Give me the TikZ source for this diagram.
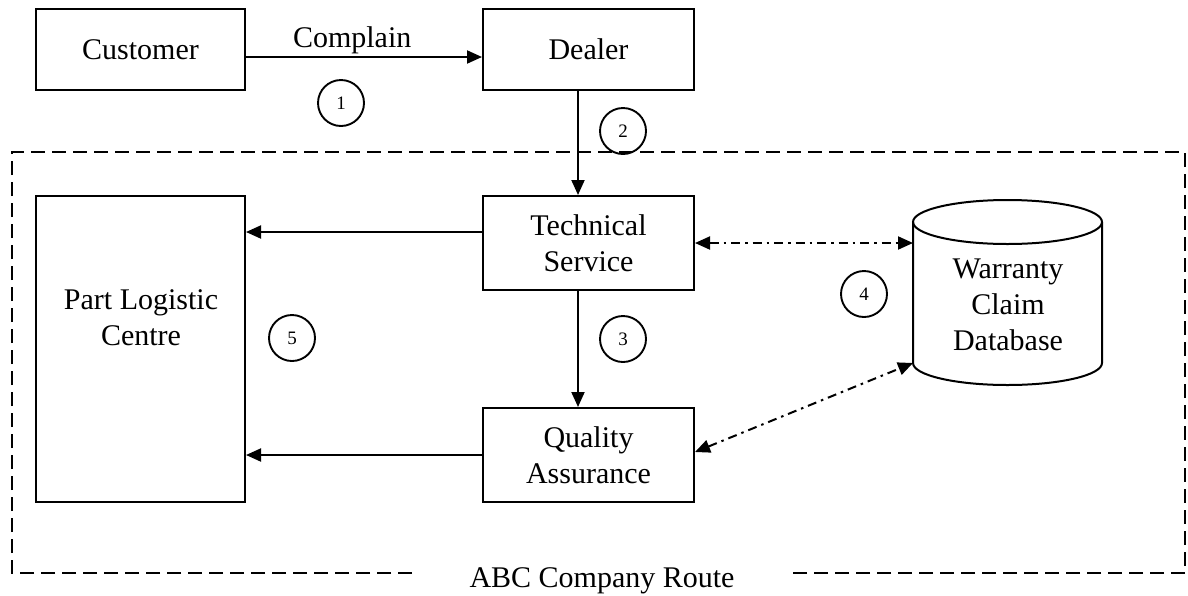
\documentclass[tikz,border=0pt]{standalone}
\usepackage{fontspec}
\setmainfont{Liberation Serif}
\usetikzlibrary{arrows.meta}

\begin{document}
\begin{tikzpicture}[x=1pt,y=-1pt,
  font=\fontsize{30}{36}\selectfont,
  every path/.style={line width=2pt},
  box/.style={draw, rectangle, align=center, inner sep=0pt, line width=2pt},
  num/.style={draw, circle, minimum size=46pt, inner sep=0pt, line width=1.9pt,
              font=\fontsize{19}{19}\selectfont},
  arr/.style={-{Triangle[length=15pt,width=13pt]}, line width=2pt},
  dbarr/.style={{Triangle[length=15pt,width=13pt]}-{Triangle[length=15pt,width=13pt]},
                line width=2pt, dash pattern=on 9pt off 5pt on 2.5pt off 5pt},
  frame/.style={line width=2pt, dash pattern=on 14pt off 7pt}]

  \useasboundingbox (0,0) rectangle (1188,595);

  % upper row
  \node[box, minimum width=209pt, minimum height=81pt] (cust) at (140.5,49.5) {Customer};
  \node[box, minimum width=211pt, minimum height=81pt] (dealer) at (588.5,49.5) {Dealer};

  % company boxes
  \node[box, minimum width=209pt, minimum height=306pt] (plc) at (140.5,349) {};
  \node[align=center] (plctext) at (141,318) {Part Logistic\\Centre};
  \node[box, minimum width=211pt, minimum height=94pt] (ts) at (588.5,243) {Technical\\Service};
  \node[box, minimum width=211pt, minimum height=94pt] (qa) at (588.5,455) {Quality\\Assurance};

  % database cylinder
  \draw (913,222) -- (913,363) arc[start angle=180, end angle=360, x radius=94.5pt, y radius=22pt]
        -- (1102,222);
  \draw (1007.5,222) ellipse[x radius=94.5pt, y radius=22pt];
  \node[align=center, text width=189pt] (db) at (1008,305) {Warranty\\Claim\\Database};
  \coordinate (dbtop) at (913,243);
  \coordinate (dbbot) at (913,363);

  % step numbers
  \node[num] (n1) at (341,103) {1};
  \node[num] (n2) at (623,131) {2};
  \node[num] (n3) at (623,339) {3};
  \node[num] (n4) at (864,294) {4};
  \node[num] (n5) at (292,338) {5};

  % flow
  \draw[arr] (cust.east |- 0,57) -- node[above=-1pt, pos=0.45] (compl) {Complain} (dealer.west |- 0,57);
  \draw[arr] (dealer.south -| 578,0) -- (ts.north -| 578,0);
  \draw[arr] (ts.south -| 578,0) -- (qa.north -| 578,0);
  \draw[arr] (ts.west |- 0,232) -- (plc.east |- 0,232);
  \draw[arr] (qa.west |- 0,455) -- (plc.east |- 0,455);
  \draw[dbarr] (ts.east |- 0,243) -- (dbtop);
  \draw[dbarr] (qa.east |- 0,452) -- (dbbot);

  % company boundary
  \draw[frame] (412,573) -- (12,573) -- (12,152) -- (1185,152) -- (1185,573) -- (790,573);
  \node[anchor=base] (route) at (602,587) {ABC Company Route};
\end{tikzpicture}
\end{document}
